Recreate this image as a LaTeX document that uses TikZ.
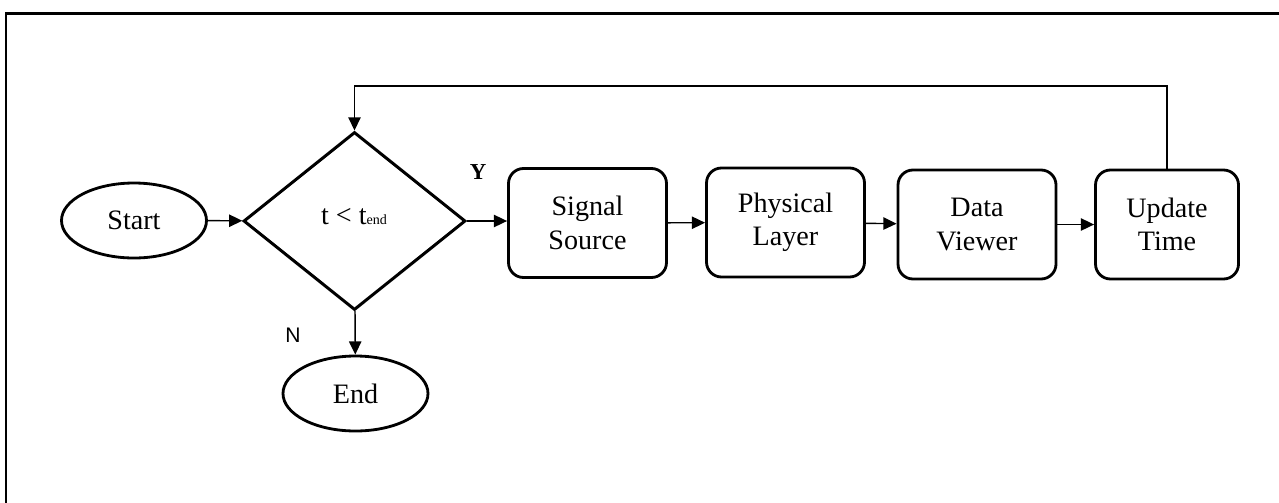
\documentclass[tikz,border=0pt]{standalone}
\usepackage{fontspec}
\setmainfont{Liberation Serif}
\newfontfamily\labelsans{Liberation Sans}
\usetikzlibrary{shapes.geometric, arrows.meta}

\begin{document}
\begin{tikzpicture}[>={Triangle[length=7.5pt,width=7pt]}, line width=0.8pt,
    term/.style={draw, ellipse, line width=1.6pt, minimum width=2.9cm,
                 minimum height=1.5cm, font=\fontsize{16}{18}\selectfont},
    decision/.style={draw, diamond, line width=1.7pt, minimum width=4.44cm,
                 minimum height=3.56cm, inner sep=0pt, font=\fontsize{16}{18}\selectfont},
    block/.style={draw, rounded corners=0.3cm, line width=1.6pt, minimum width=3.16cm,
                 minimum height=2.18cm, align=center, font=\fontsize{16}{19}\selectfont}]
    \useasboundingbox (0,0) rectangle (25.58,-10.04);
    % outer frame, cut at the right and bottom
    \draw[line width=1.7pt] (0.12,-10.1) -- (0.12,-0.27) -- (25.7,-0.27);

    \node[term] (start) at (2.68,-4.41) {Start};
    \node[decision] (test) at (7.09,-4.42) {};
    \node[font=\fontsize{16}{18}\selectfont] (cond) at (7.08,-4.34)
        {t < t{\fontsize{8}{8}\selectfont end}};
    \node[term] (stop) at (7.11,-7.87) {End};

    \node[block] (source) at (11.75,-4.46) {Signal\\Source};
    \node[block] (phy) at (15.71,-4.45) {Physical\\Layer};
    \node[block] (viewer) at (19.54,-4.49) {Data\\Viewer};
    \node[block, minimum width=2.86cm] (update) at (23.34,-4.49) {Update\\Time};

    \node[font=\fontsize{13}{13}\selectfont\bfseries] (yes) at (9.56,-3.44) {Y};
    \node[font=\labelsans\fontsize{12}{12}\selectfont] (no) at (5.86,-6.70) {N};

    \draw[->] (start) -- (test);
    \draw[->] (test.east) -- (source.west |- test.east);
    \draw[->] (test) -- (stop);
    \draw[->] (source) -- (phy);
    \draw[->] (phy) -- (viewer);
    \draw[->] (viewer) -- (update);
    \draw[->] (update.north) |- (7.09,-1.72) -- (test.north);
\end{tikzpicture}
\end{document}
